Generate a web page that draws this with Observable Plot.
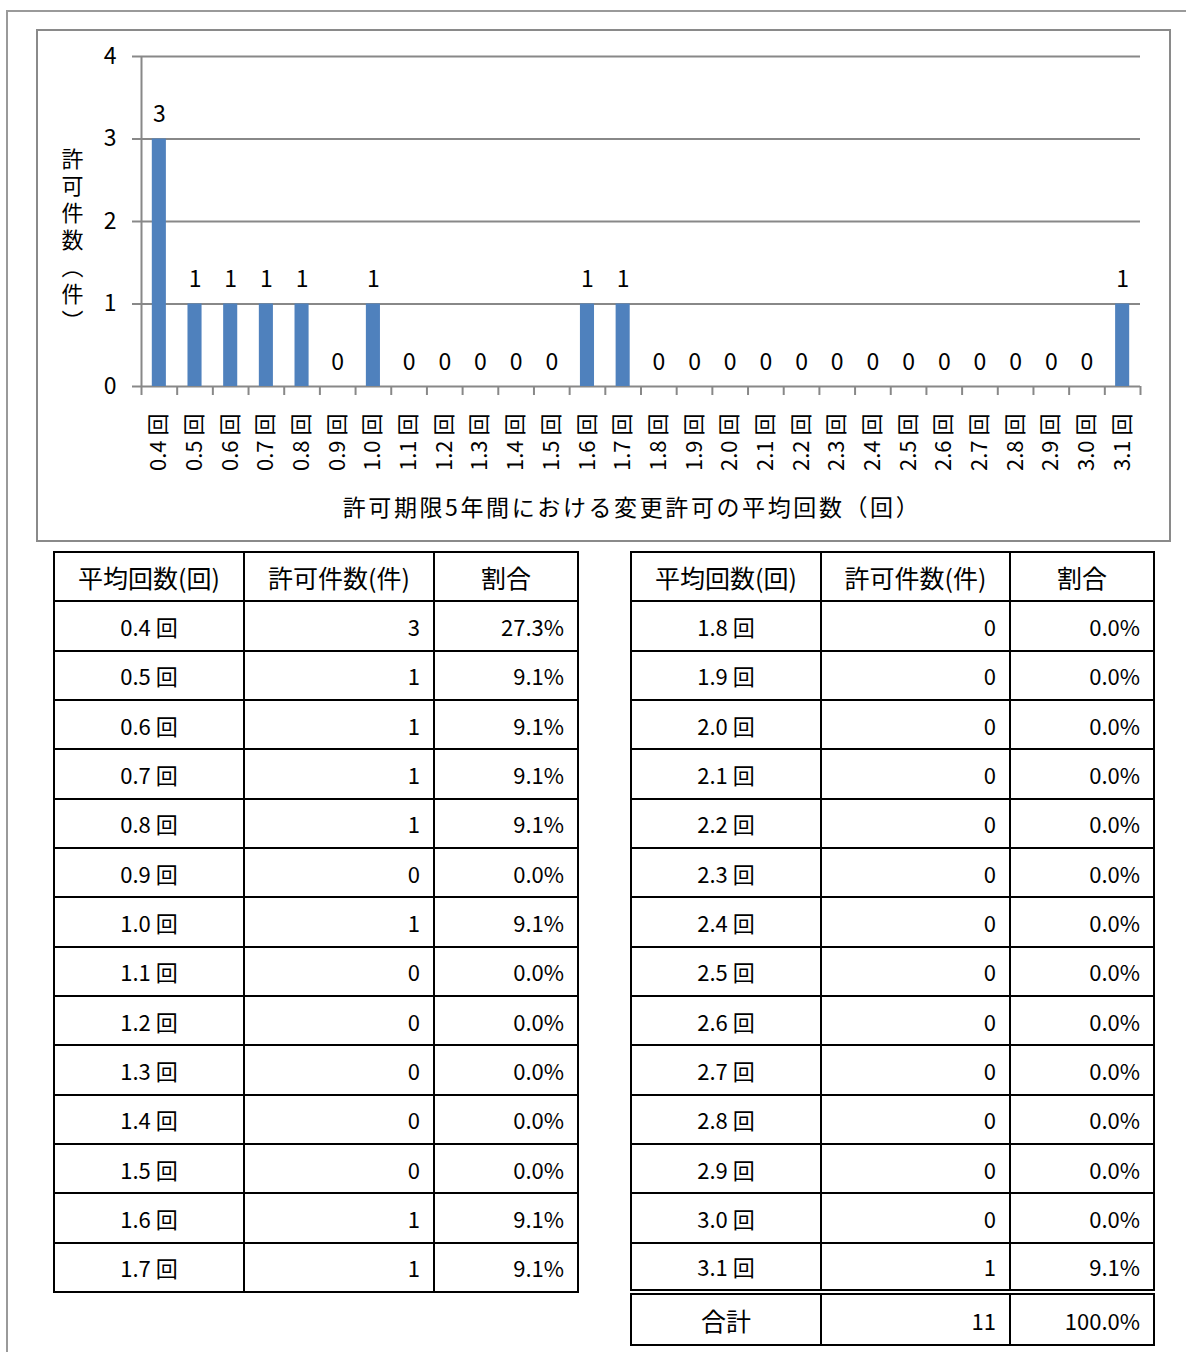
<!DOCTYPE html>
<html><head><meta charset="utf-8">
<script src="https://cdn.jsdelivr.net/npm/d3@7"></script>
<script src="https://cdn.jsdelivr.net/npm/@observablehq/plot@0.6"></script>
<style>
html,body{margin:0;padding:0;background:#fff;}
body{width:1186px;height:1352px;overflow:hidden;position:relative;font-family:"Noto Sans CJK JP",sans-serif;}
#outer{position:absolute;left:6px;top:10px;width:1300px;height:1400px;border:2px solid #9a9a9a;box-sizing:border-box;}
#frame{position:absolute;left:36px;top:29px;width:1135px;height:513px;border:2px solid #8a8a8a;box-sizing:border-box;}
#plot{position:absolute;left:37px;top:30px;}
#plot svg{overflow:visible;}
#plot g[aria-label="y-axis tick"] path,#plot g[aria-label="y-axis"] .tick line{stroke:#888;stroke-width:2px;}
#plot g[aria-label="y-axis"] .domain,#plot g[aria-label="x-axis"] .domain{display:none;}
#plot g[aria-label="x-axis tick label"] text,#plot g[aria-label="x-axis"] .tick text{font-size:22px;}
#plot g[aria-label="y-axis tick label"] text,#plot g[aria-label="y-axis"] .tick text{font-size:23px;}
table.t{position:absolute;top:551px;border-collapse:collapse;font-family:"Liberation Sans Narrow","Noto Sans CJK JP",sans-serif;font-size:22px;color:#000;}
table.t td{border:2px solid #000;padding:0 13px;height:45px;box-sizing:border-box;white-space:nowrap;}
table.t tr{height:49.35px;}
table.t td.c{text-align:center;}
table.t td.r{text-align:right;}
table.t td.h{font-family:"Noto Sans CJK JP",sans-serif;font-size:25px;text-align:center;}
table.t tr.total{height:53px;}
table.t tr.total td{border-top:6px double #000;}
</style>
</head><body>
<div id="outer"></div>
<div id="frame"></div>
<div id="plot"></div>
<script>
const categories = ["0.4 回","0.5 回","0.6 回","0.7 回","0.8 回","0.9 回","1.0 回","1.1 回","1.2 回","1.3 回","1.4 回","1.5 回","1.6 回","1.7 回","1.8 回","1.9 回","2.0 回","2.1 回","2.2 回","2.3 回","2.4 回","2.5 回","2.6 回","2.7 回","2.8 回","2.9 回","3.0 回","3.1 回"];
const counts = [3,1,1,1,1,0,1,0,0,0,0,0,1,1,0,0,0,0,0,0,0,0,0,0,0,0,0,1];
const shares = ["27.3%","9.1%","9.1%","9.1%","9.1%","0.0%","9.1%","0.0%","0.0%","0.0%","0.0%","0.0%","9.1%","9.1%","0.0%","0.0%","0.0%","0.0%","0.0%","0.0%","0.0%","0.0%","0.0%","0.0%","0.0%","0.0%","0.0%","9.1%"];
const yTicks = [0,1,2,3,4];
const headers = ["平均回数(回)","許可件数(件)","割合"];
const totalLabel = "合計";
const totalCount = 11;
const totalShare = "100.0%";
const xTitle = "許可期限5年間における変更許可の平均回数（回）";
const yTitle = "許可件数（件）";

const data = categories.map((c,i)=>({cat:c, n:counts[i]}));

const W = 1133, H = 511, mL = 104, mR = 30, mT = 26, mB = 155;
const bw = (W - mL - mR) / categories.length;
const grey = "#888";

const chart = Plot.plot({
  width: W, height: H,
  marginLeft: mL, marginRight: mR, marginTop: mT, marginBottom: mB,
  style: {fontSize: "22px", fontFamily: "'Noto Sans CJK JP', sans-serif", color: "#000", background: "transparent", overflow: "visible"},
  x: {domain: categories, padding: 0, round: false, tickSize: 0, tickRotate: -90, tickPadding: 27, label: null},
  y: {domain: [0,4], ticks: yTicks, tickSize: 9, tickPadding: 16, label: null, tickFormat: d => String(d)},
  marks: [
    Plot.ruleY(yTicks, {y: d => d, stroke: grey, strokeWidth: 2}),
    Plot.ruleX([categories[0]], {x: d => d, dx: -bw/2, stroke: grey, strokeWidth: 2}),
    Plot.ruleX(categories, {x: d => d, y1: 0, y2: 0, dx: -bw/2, insetBottom: -9, stroke: grey, strokeWidth: 2}),
    Plot.ruleX([categories[categories.length-1]], {x: d => d, y1: 0, y2: 0, dx: bw/2, insetBottom: -9, stroke: grey, strokeWidth: 2}),
    Plot.barY(data, {x: "cat", y: "n", fill: "#4F81BD", insetLeft: 10.8, insetRight: 10.8}),
    Plot.text(data, {x: "cat", y: "n", text: d => String(d.n), dy: -24, fontSize: 23, fill: "#000"}),
    Plot.text([xTitle], {frameAnchor: "bottom", text: d => d, dy: 122, dx: -9, lineAnchor: "middle", textAnchor: "middle", fontSize: 23, fill: "#000"}),
    Plot.text([yTitle], {frameAnchor: "left", text: d => d, dx: -69, dy: 14, textAnchor: "middle", fontSize: 22, fill: "#000"})
  ]
});
document.getElementById("plot").appendChild(chart);

// vertical writing for the y-axis title, letter spacing for x title
d3.select(chart).selectAll("text").each(function(){
  const t = this.textContent;
  if (t === yTitle) { this.style.writingMode = "vertical-rl"; this.style.letterSpacing = "5px"; }
  if (t === xTitle) { this.style.letterSpacing = "2.6px"; }
});

function makeTable(rows, left, widths, withTotal){
  const tbl = document.createElement("table");
  tbl.className = "t";
  tbl.style.left = left + "px";
  const cg = document.createElement("colgroup");
  widths.forEach(w => { const c = document.createElement("col"); c.style.width = w + "px"; cg.appendChild(c); });
  tbl.appendChild(cg);
  const hr = document.createElement("tr");
  headers.forEach(h => { const td = document.createElement("td"); td.className = "h"; td.textContent = h; hr.appendChild(td); });
  tbl.appendChild(hr);
  rows.forEach(i => {
    const tr = document.createElement("tr");
    [[categories[i],"c"],[String(counts[i]),"r"],[shares[i],"r"]].forEach(([v,cl]) => {
      const td = document.createElement("td"); td.className = cl; td.textContent = v; tr.appendChild(td);
    });
    tbl.appendChild(tr);
  });
  if (withTotal){
    const tr = document.createElement("tr"); tr.className = "total";
    [[totalLabel,"h"],[String(totalCount),"r"],[totalShare,"r"]].forEach(([v,cl]) => {
      const td = document.createElement("td"); td.className = cl; td.textContent = v; tr.appendChild(td);
    });
    tbl.appendChild(tr);
  }
  tbl.style.width = widths.reduce((a,b)=>a+b,0) + "px";
  tbl.style.tableLayout = "fixed";
  document.body.appendChild(tbl);
}
makeTable(d3.range(0,14), 53, [190,190,144], false);
makeTable(d3.range(14,28), 630, [190,189,144], true);
</script>
</body></html>
